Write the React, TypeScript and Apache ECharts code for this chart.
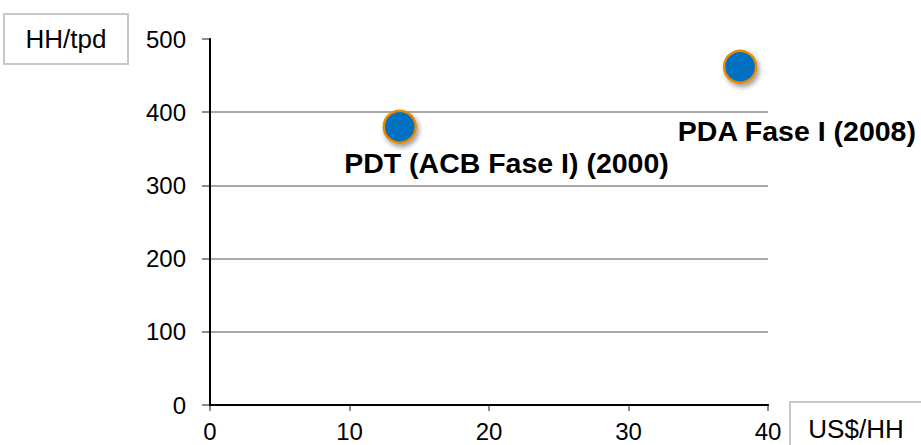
import React, { useEffect, useRef } from "react";
import * as echarts from "echarts";

const pointNames = ["PDT (ACB Fase I) (2000)", "PDA Fase I (2008)"];
const costPerHH = [13.6, 38.0];
const hhPerTpd = [380, 462];
const xTicks = [0, 10, 20, 30, 40];
const yTicks = [0, 100, 200, 300, 400, 500];
const yAxisTitle = "HH/tpd";
const xAxisTitle = "US$/HH";

const FONT = "'Liberation Sans', Arial, sans-serif";

export default function App() {
  const ref = useRef<HTMLDivElement>(null);
  useEffect(() => {
    if (!ref.current) return;
    const chart = echarts.init(ref.current, undefined, { renderer: "svg" });
    const symbolSize = 32;
    const labelOffsets = [
      [108, 37],
      [58, 65],
    ];
    const data = pointNames.map((name, i) => ({
      name,
      value: [costPerHH[i], hhPerTpd[i]],
      label: {
        show: true,
        position: [symbolSize / 2 + labelOffsets[i][0], symbolSize / 2 + labelOffsets[i][1]],
        align: "center",
        verticalAlign: "middle",
        formatter: "{b}",
        fontFamily: FONT,
        fontWeight: "bold",
        fontSize: 28.5,
        color: "#000",
        textBorderWidth: 0,
      },
    }));
    const xMin = xTicks[0];
    const xMax = xTicks[xTicks.length - 1];
    const yMin = yTicks[0];
    const yMax = yTicks[yTicks.length - 1];
    chart.setOption({
      animation: false,
      backgroundColor: "#fff",
      grid: { left: 210, right: 153, top: 39, bottom: 40, containLabel: false },
      xAxis: [
        {
          type: "value",
          min: xMin,
          max: xMax,
          interval: 10,
          axisLine: { show: true, lineStyle: { color: "#8c8c8c", width: 2 } },
          axisTick: { show: true, length: 6, lineStyle: { color: "#8c8c8c", width: 2 } },
          splitLine: { show: false },
          axisLabel: { fontFamily: FONT, fontSize: 24, color: "#000", margin: 14 },
        },
        {
          type: "value",
          position: "top",
          min: xMin,
          max: xMax,
          z: 10,
          axisLine: { show: true, lineStyle: { color: "#000", width: 2 } },
          axisTick: { show: false },
          axisLabel: { show: false },
          splitLine: { show: false },
        },
      ],
      yAxis: [
        {
          type: "value",
          min: yMin,
          max: yMax,
          interval: 100,
          axisLine: { show: true, lineStyle: { color: "#8c8c8c", width: 2 } },
          axisTick: { show: true, length: 8, lineStyle: { color: "#8c8c8c", width: 2 } },
          splitLine: { show: true, showMaxLine: false, lineStyle: { color: "#8c8c8c", width: 1.5 } },
          axisLabel: { fontFamily: FONT, fontSize: 24, color: "#000", margin: 24 },
        },
        {
          type: "value",
          position: "right",
          min: yMin,
          max: yMax,
          z: 10,
          axisLine: { show: true, lineStyle: { color: "#000", width: 2 } },
          axisTick: { show: false },
          axisLabel: { show: false },
          splitLine: { show: false },
        },
      ],
      graphic: [
        {
          type: "group",
          left: 3,
          top: 13,
          children: [
            {
              type: "rect",
              shape: { x: 0, y: 0, width: 124, height: 50 },
              style: { fill: "#fff", stroke: "#c8c8c8", lineWidth: 2 },
            },
            {
              type: "text",
              x: 62,
              y: 25,
              style: {
                text: yAxisTitle,
                fontFamily: FONT,
                fontSize: 26,
                fill: "#000",
                align: "center",
                verticalAlign: "middle",
              },
            },
          ],
        },
        {
          type: "group",
          left: 789,
          top: 401,
          children: [
            {
              type: "rect",
              shape: { x: 0, y: 0, width: 140, height: 60 },
              style: { fill: "#fff", stroke: "#c8c8c8", lineWidth: 2 },
            },
            {
              type: "text",
              x: 66,
              y: 27,
              style: {
                text: xAxisTitle,
                fontFamily: FONT,
                fontSize: 26,
                fill: "#000",
                align: "center",
                verticalAlign: "middle",
              },
            },
          ],
        },
      ],
      series: [
        {
          type: "scatter",
          symbol: "circle",
          symbolSize,
          z: 2,
          itemStyle: {
            color: "#0070C0",
            borderColor: "#E88A00",
            borderWidth: 2.5,
            opacity: 1,
            shadowBlur: 5,
            shadowOffsetX: 2,
            shadowOffsetY: 3,
            shadowColor: "rgba(0,0,0,0.4)",
          },
          data,
        },
      ],
    });
    return () => chart.dispose();
  }, []);
  return (
    <div
      ref={ref}
      style={{ position: "fixed", left: 0, top: 0, width: 921, height: 445 }}
    />
  );
}
